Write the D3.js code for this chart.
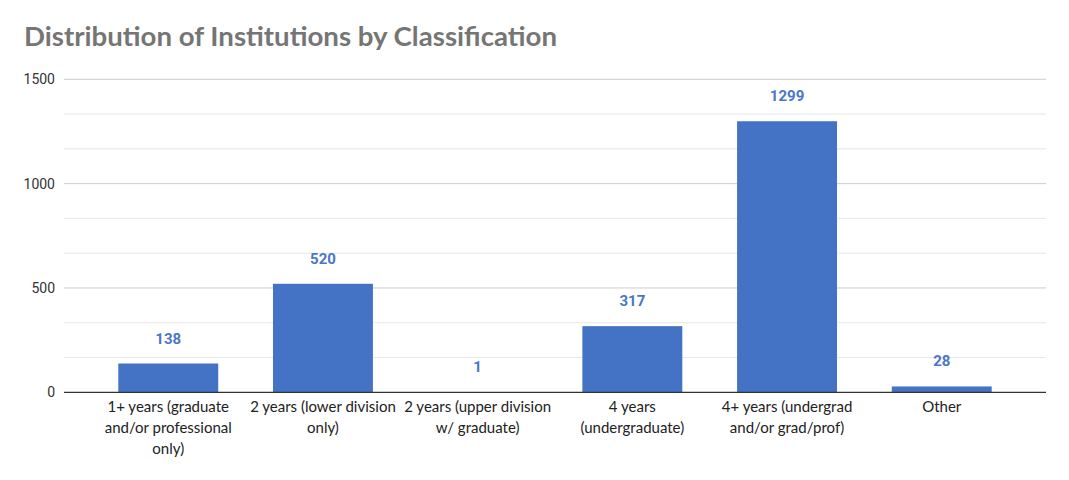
<!DOCTYPE html>
<html><head><meta charset="utf-8">
<script src="https://cdn.jsdelivr.net/npm/d3@7"></script>
<style>body{margin:0;background:#fff}</style>
</head><body><svg id="c" width="1069" height="480"></svg>
<script>
const categories = [
  ["1+ years (graduate","and/or professional","only)"],
  ["2 years (lower division","only)"],
  ["2 years (upper division","w/ graduate)"],
  ["4 years","(undergraduate)"],
  ["4+ years (undergrad","and/or grad/prof)"],
  ["Other"]
];
const values = [138, 520, 1, 317, 1299, 28];
const yTicks = [0, 500, 1000, 1500];
const minorTicks = [500/3, 1000/3, 2000/3, 2500/3, 3500/3, 4000/3];
const title = "Distribution of Institutions by Classification";

const svg = d3.select("#c");
const pL = 64, pR = 1046, pT = 79.3, pB = 392.3;
const keys = categories.map((c,i)=>String(i));
const x = d3.scaleBand().domain(keys).range([pL,pR]).paddingInner(0.354).paddingOuter(0.351);
const y = d3.scaleLinear().domain([0,1500]).range([pB,pT]);

svg.append("text").attr("x",24).attr("y",46).text(title)
  .attr("font-family","Lato, 'Open Sans', sans-serif").attr("font-weight","bold")
  .attr("font-size",27).attr("fill","#757575")
  .attr("textLength",533).attr("lengthAdjust","spacingAndGlyphs");

// minor grid
svg.append("g").selectAll("line").data(minorTicks).join("line")
  .attr("x1",pL).attr("x2",pR).attr("y1",d=>y(d)).attr("y2",d=>y(d))
  .attr("stroke","#e6e6e6").attr("stroke-width",1);
// major grid
svg.append("g").selectAll("line").data(yTicks.filter(d=>d>0)).join("line")
  .attr("x1",pL).attr("x2",pR).attr("y1",d=>y(d)).attr("y2",d=>y(d))
  .attr("stroke","#cccccc").attr("stroke-width",1);

// y axis labels
const ya = svg.append("g").attr("transform",`translate(${pL-9},0)`)
  .call(d3.axisLeft(y).tickValues(yTicks).tickFormat(d3.format("d")).tickSize(0).tickPadding(0));
ya.select(".domain").remove();
ya.selectAll("text").attr("font-family","Roboto, Arial, sans-serif").attr("font-size",14).attr("fill","#333");

// bars
svg.append("g").selectAll("rect").data(values).join("rect")
  .attr("x",(d,i)=>x(String(i))).attr("width",x.bandwidth())
  .attr("y",d=>y(d)).attr("height",d=>pB-y(d))
  .attr("fill","#4472c4");

// data labels
svg.append("g").selectAll("text").data(values).join("text")
  .attr("x",(d,i)=>x(String(i))+x.bandwidth()/2).attr("y",d=>y(d)-20)
  .attr("text-anchor","middle").text(d=>d)
  .attr("font-family","Roboto, Arial, sans-serif").attr("font-weight","bold")
  .attr("font-size",15).attr("fill","#4a76c6");

// baseline
svg.append("line").attr("x1",pL).attr("x2",pR).attr("y1",pB).attr("y2",pB)
  .attr("stroke","#333").attr("stroke-width",1.2);

// category labels
const cl = svg.append("g").selectAll("text").data(categories).join("text")
  .attr("text-anchor","middle")
  .attr("font-family","Lato, 'Open Sans', sans-serif").attr("font-size",15).attr("fill","#222");
cl.each(function(lines,i){
  const t = d3.select(this);
  lines.forEach((ln,j)=>{
    t.append("tspan").attr("x",x(String(i))+x.bandwidth()/2).attr("y",412+j*21).text(ln);
  });
});
</script></body></html>
